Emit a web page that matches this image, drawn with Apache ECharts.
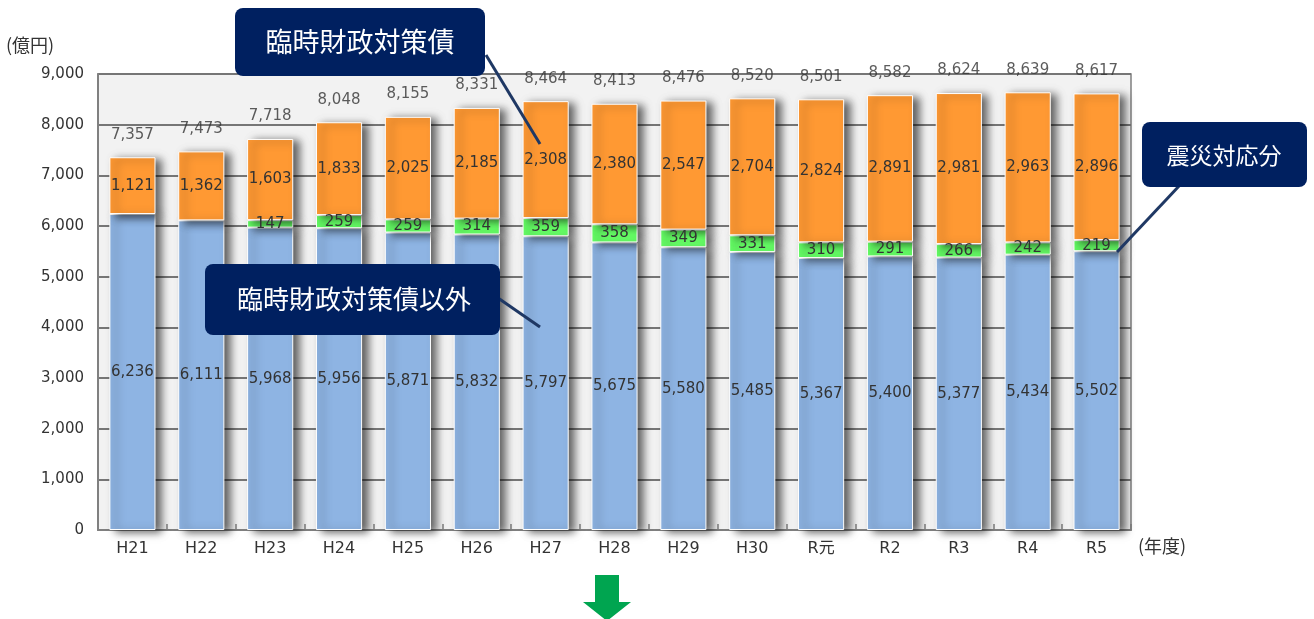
<!DOCTYPE html>
<html>
<head>
<meta charset="utf-8">
<script src="https://cdn.jsdelivr.net/npm/echarts@6/dist/echarts.min.js"></script>
<style>html,body{margin:0;padding:0;background:#fff;}#c{width:1314px;height:619px;}</style>
</head>
<body>
<div id="c"></div>
<script>
var categories = ['H21','H22','H23','H24','H25','H26','H27','H28','H29','H30','R元','R2','R3','R4','R5'];
var otherValues = [6236,6111,5968,5956,5871,5832,5797,5675,5580,5485,5367,5400,5377,5434,5502];
var disasterValues = [0,0,147,259,259,314,359,358,349,331,310,291,266,242,219];
var rinzaiValues = [1121,1362,1603,1833,2025,2185,2308,2380,2547,2704,2824,2891,2981,2963,2896];
var totalValues = [7357,7473,7718,8048,8155,8331,8464,8413,8476,8520,8501,8582,8624,8639,8617];
var yTicks = [0,1000,2000,3000,4000,5000,6000,7000,8000,9000];

var FONT = '"Noto Sans CJK JP", "Noto Sans", sans-serif';
var NUMFONT = '"DejaVu Sans", "Noto Sans CJK JP", sans-serif';
function fmt(v){ return v.toLocaleString('en-US'); }
var barStyle = function(color){
  return {color: color, borderColor: '#ffffff', borderWidth: 1,
    shadowColor: 'rgba(0,0,0,0.6)', shadowBlur: 8, shadowOffsetX: 6, shadowOffsetY: 2};
};
var lbl = {show: true, position: 'inside', color: '#333', fontSize: 15, fontFamily: NUMFONT,
  formatter: function(p){ return p.value ? fmt(p.value) : ''; }};

var chart = echarts.init(document.getElementById('c'));
chart.setOption({
  animation: false,
  backgroundColor: '#ffffff',
  grid: {left: 98, right: 183, top: 74, bottom: 89, show: true, backgroundColor: '#f2f2f2',
    borderColor: '#808080', borderWidth: 1.5},
  xAxis: {type: 'category', data: categories,
    axisLine: {lineStyle: {color: '#808080', width: 2}},
    axisTick: {show: true, inside: true, length: 6, lineStyle: {color: '#808080', width: 1.5}},
    axisLabel: {color: '#333', fontSize: 16, fontFamily: NUMFONT, margin: 11}},
  yAxis: {type: 'value', min: 0, max: 9000, interval: 1000,
    axisLine: {show: true, lineStyle: {color: '#808080', width: 2}},
    axisTick: {show: false},
    splitLine: {lineStyle: {color: '#767676', width: 2}},
    axisLabel: {color: '#333', fontSize: 15, fontFamily: NUMFONT, margin: 14,
      formatter: function(v){ return yTicks.indexOf(v) >= 0 ? fmt(v) : ''; }}},
  series: [
    {name: '臨時財政対策債以外', type: 'bar', stack: 's', barWidth: '67%', data: otherValues,
      itemStyle: barStyle('#8eb4e3'), label: lbl, z: 2},
    {name: '震災対応分', type: 'bar', stack: 's', data: disasterValues,
      itemStyle: barStyle('#66ff66'), label: lbl, z: 2},
    {name: '臨時財政対策債', type: 'bar', stack: 's', data: rinzaiValues,
      itemStyle: barStyle('#ff9933'), label: lbl, z: 2},
    {name: '合計', type: 'scatter', data: totalValues, symbolSize: 0, z: 3,
      label: {show: true, position: 'top', distance: 15, color: '#333', fontSize: 15, fontFamily: NUMFONT,
        formatter: function(p){ return fmt(p.value); }}}
  ],
  graphic: [
    {type: 'text', left: 6, top: 36, style: {text: '(億円)', fill: '#333', font: '18px ' + FONT}},
    {type: 'text', left: 1138, top: 537, style: {text: '(年度)', fill: '#333', font: '18px ' + FONT}},
    {type: 'line', shape: {x1: 486, y1: 55, x2: 540, y2: 144}, style: {stroke: '#1f3864', lineWidth: 3}, z: 10},
    {type: 'rect', shape: {x: 235, y: 8, width: 250, height: 68, r: 8}, style: {fill: '#002060'}, z: 11},
    {type: 'text', x: 360, y: 42, style: {text: '臨時財政対策債', fill: '#fff', font: '27px ' + FONT, align: 'center', verticalAlign: 'middle'}, z: 12},
    {type: 'line', shape: {x1: 498, y1: 298, x2: 540, y2: 327}, style: {stroke: '#1f3864', lineWidth: 3}, z: 10},
    {type: 'rect', shape: {x: 205, y: 264, width: 295, height: 71, r: 8}, style: {fill: '#002060'}, z: 11},
    {type: 'text', x: 354, y: 299, style: {text: '臨時財政対策債以外', fill: '#fff', font: '26px ' + FONT, align: 'center', verticalAlign: 'middle'}, z: 12},
    {type: 'line', shape: {x1: 1180, y1: 185, x2: 1117, y2: 252}, style: {stroke: '#1f3864', lineWidth: 3}, z: 10},
    {type: 'rect', shape: {x: 1142, y: 122, width: 165, height: 65, r: 8}, style: {fill: '#002060'}, z: 11},
    {type: 'text', x: 1224, y: 155, style: {text: '震災対応分', fill: '#fff', font: '23px ' + FONT, align: 'center', verticalAlign: 'middle'}, z: 12},
    {type: 'polygon', shape: {points: [[595,575],[619,575],[619,602],[631,602],[607,621],[583,602],[595,602]]}, style: {fill: '#00a550'}, z: 10}
  ]
});
</script>
</body>
</html>
